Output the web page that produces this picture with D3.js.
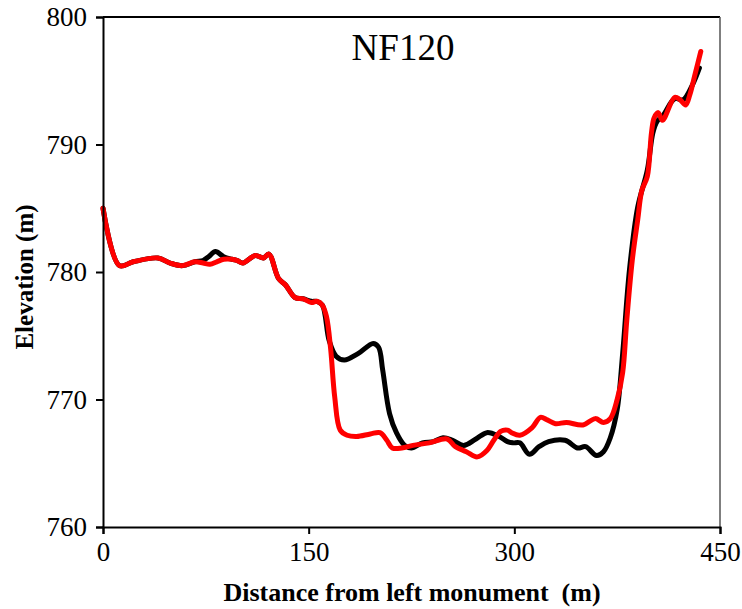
<!DOCTYPE html>
<html>
<head>
<meta charset="utf-8">
<script src="https://cdn.jsdelivr.net/npm/d3@7"></script>
<style>
  html, body { margin: 0; padding: 0; background: #fff; }
  svg { display: block; }
  svg text { font-family: "Times New Roman", "Liberation Serif", Tinos, serif !important; }
</style>
</head>
<body>
<svg id="chart" width="742" height="609"></svg>
<script>
// ---- Data ----
const chartTitle = "NF120";
const xTicks = [0, 150, 300, 450];
const yTicks = [760, 770, 780, 790, 800];
const xLabel = "Distance from left monument  (m)";
const yLabel = "Elevation (m)";

// Black series
const blackDist = [0, 12, 22, 40, 49, 58, 67, 73, 77, 82, 88, 94, 98, 102, 111, 117, 121, 128, 133, 140, 146, 152, 156, 160, 165, 170, 176, 186, 197, 201, 204, 209, 214, 220, 225, 233, 241, 248, 255, 263, 272, 280, 289, 295, 299, 304, 311, 318, 325, 337, 346, 352, 360, 365, 370, 375, 379, 384, 390, 397, 401, 404, 408, 417, 423, 430, 435];
const blackElev = [785.0, 780.5, 780.8, 781.1, 780.7, 780.5, 780.8, 780.9, 781.2, 781.6, 781.2, 781.0, 780.9, 780.7, 781.3, 781.1, 781.4, 779.5, 779.0, 778.0, 777.9, 777.7, 777.7, 777.4, 774.6, 773.4, 773.1, 773.6, 774.4, 774.1, 772.3, 768.9, 767.4, 766.4, 766.2, 766.6, 766.7, 767.0, 766.8, 766.4, 766.9, 767.4, 767.1, 766.7, 766.6, 766.6, 765.7, 766.3, 766.7, 766.8, 766.2, 766.3, 765.6, 765.9, 767.0, 769.2, 773.6, 780.2, 785.1, 788.0, 790.9, 791.8, 792.2, 793.6, 793.5, 794.7, 796.0];

// Red series
const redDist = [0, 12, 22, 40, 49, 58, 67, 73, 78, 83, 88, 94, 98, 102, 111, 117, 121, 128, 133, 140, 146, 152, 156, 160, 163, 166, 169, 173, 178, 185, 195, 202, 207, 211, 218, 226, 238, 251, 257, 265, 273, 280, 285, 290, 295, 298, 304, 313, 319, 324, 330, 338, 350, 359, 365, 370, 375, 379, 382, 386, 390, 393, 397, 400, 402, 405, 408, 417, 421, 425, 428, 432, 436];
const redElev = [785.0, 780.5, 780.8, 781.1, 780.7, 780.5, 780.8, 780.7, 780.6, 780.8, 781.0, 781.0, 780.9, 780.7, 781.3, 781.1, 781.4, 779.5, 779.0, 778.0, 777.9, 777.6, 777.7, 777.4, 776.5, 774.0, 770.2, 767.6, 767.2, 767.1, 767.3, 767.4, 766.8, 766.2, 766.2, 766.4, 766.6, 766.9, 766.3, 765.9, 765.5, 766.0, 766.8, 767.5, 767.6, 767.4, 767.2, 767.8, 768.6, 768.4, 768.1, 768.2, 768.0, 768.5, 768.2, 768.5, 770.0, 772.1, 776.2, 780.9, 784.1, 786.4, 787.5, 790.9, 792.1, 792.5, 791.9, 793.7, 793.5, 793.1, 793.9, 795.6, 797.3];

const seriesList = [
  { dist: blackDist, elev: blackElev, color: "#000000" },
  { dist: redDist, elev: redElev, color: "#ff0000" }
];

// ---- Layout ----
const svg = d3.select("#chart");
const plotLeft = 103, plotRight = 720, plotTop = 17, plotBottom = 527;
const serif = "'Times New Roman', 'Liberation Serif', serif";

const x = d3.scaleLinear().domain([0, 450]).range([plotLeft, plotRight]);
const y = d3.scaleLinear().domain([760, 800]).range([plotBottom, plotTop]);

// Frame (top and right borders)
svg.append("line").attr("x1", plotLeft).attr("x2", plotRight).attr("y1", plotTop).attr("y2", plotTop)
  .attr("stroke", "#000").attr("stroke-width", 2);
svg.append("line").attr("x1", plotRight).attr("x2", plotRight).attr("y1", plotTop).attr("y2", plotBottom)
  .attr("stroke", "#555").attr("stroke-width", 1.5);

// Lines
const line = d3.line()
  .x(d => x(d[0]))
  .y(d => y(d[1]))
  .curve(d3.curveCatmullRom.alpha(0.5));

seriesList.forEach(s => {
  const pts = s.dist.map((d, i) => [d, s.elev[i]]);
  svg.append("path")
    .datum(pts)
    .attr("fill", "none")
    .attr("stroke", s.color)
    .attr("stroke-width", 5)
    .attr("stroke-linejoin", "round")
    .attr("stroke-linecap", "round")
    .attr("d", line);
});

// Axes
const xAxis = d3.axisBottom(x).tickValues(xTicks).tickSize(7).tickPadding(8);
const yAxis = d3.axisLeft(y).tickValues(yTicks).tickSize(7).tickPadding(9);

const gx = svg.append("g").attr("transform", `translate(0,${plotBottom})`).call(xAxis);
const gy = svg.append("g").attr("transform", `translate(${plotLeft},0)`).call(yAxis);

[gx, gy].forEach(g => {
  g.attr("font-family", serif).attr("font-size", 27);
  g.select(".domain").attr("stroke", "#000").attr("stroke-width", 2);
  g.selectAll(".tick line").attr("stroke", "#000").attr("stroke-width", 2);
  g.selectAll(".tick text")
    .attr("fill", "#000")
    .attr("font-family", serif)
    .attr("font-size", 27);
});

// Title
svg.append("text")
  .attr("x", 403).attr("y", 60)
  .attr("text-anchor", "middle")
  .attr("font-family", serif)
  .attr("font-size", 37)
  .attr("fill", "#000")
  .text(chartTitle);

// Axis titles
svg.append("text")
  .attr("x", 412).attr("y", 601)
  .attr("text-anchor", "middle")
  .attr("font-family", serif)
  .attr("font-size", 26)
  .attr("font-weight", "bold")
  .attr("fill", "#000")
  .attr("xml:space", "preserve")
  .text(xLabel);

svg.append("text")
  .attr("transform", "translate(33,277) rotate(-90)")
  .attr("text-anchor", "middle")
  .attr("font-family", serif)
  .attr("font-size", 25)
  .attr("font-weight", "bold")
  .attr("fill", "#000")
  .text(yLabel);
</script>
</body>
</html>
